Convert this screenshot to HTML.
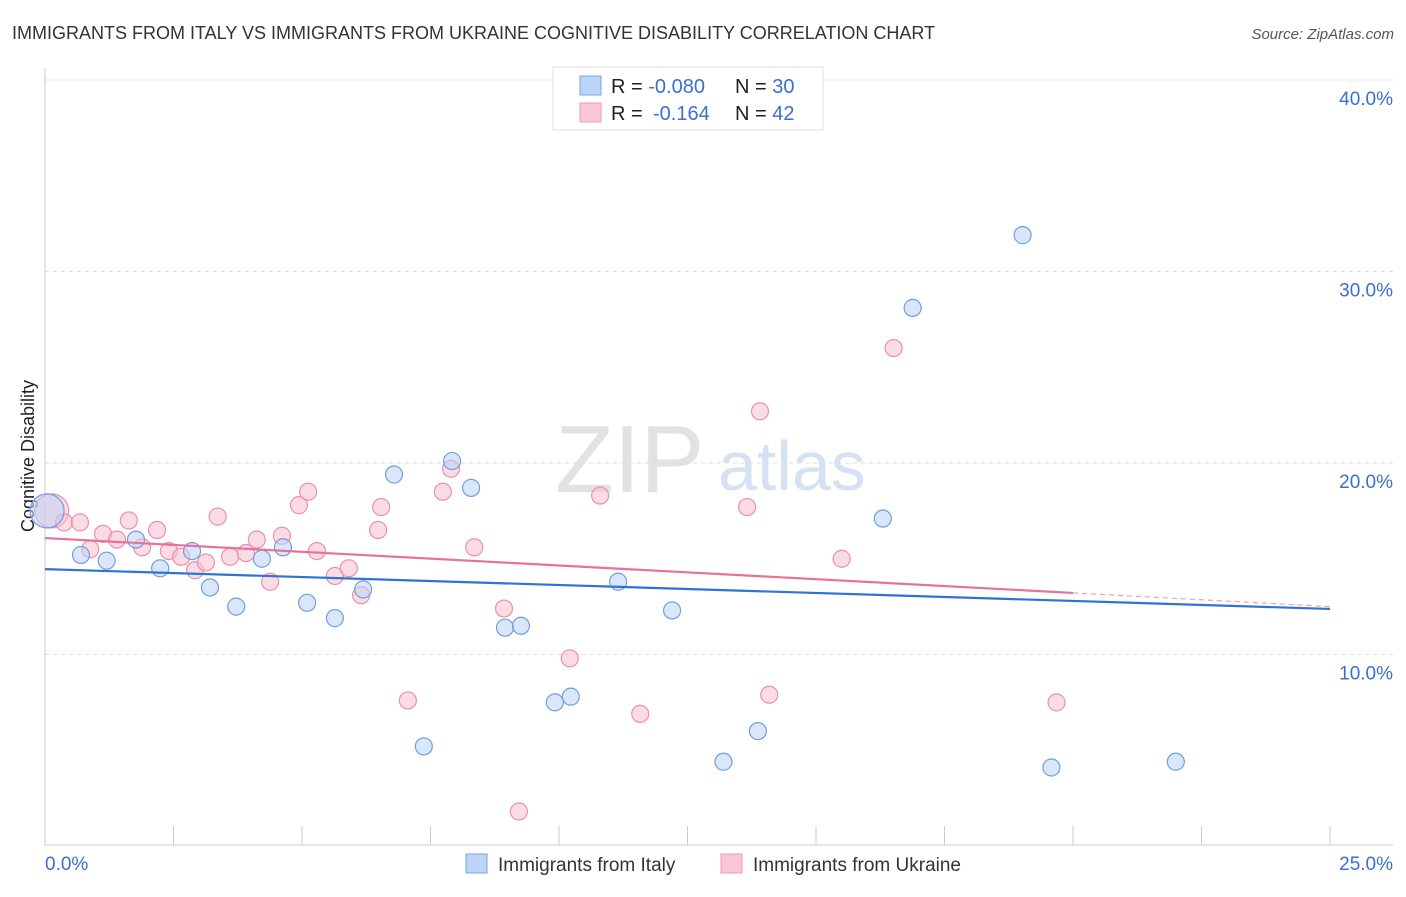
<!DOCTYPE html>
<html><head><meta charset="utf-8"><style>
body{margin:0;background:#fff;font-family:"Liberation Sans",sans-serif;}
svg text{font-family:"Liberation Sans",sans-serif;}
</style></head><body>
<svg id="c" width="1406" height="892">
<text x="12" y="39" font-size="18" fill="#333">IMMIGRANTS FROM ITALY VS IMMIGRANTS FROM UKRAINE COGNITIVE DISABILITY CORRELATION CHART</text>
<text x="1394" y="39" font-size="15" fill="#555" text-anchor="end" font-style="italic">Source: ZipAtlas.com</text>
<text x="34" y="456" font-size="18" fill="#222" text-anchor="middle" transform="rotate(-90 34 456)">Cognitive Disability</text>
<text x="555" y="492" font-size="96" fill="#e2e2e2" font-family="Liberation Serif">ZIP</text>
<text x="718" y="490" font-size="70" fill="#d4e2f4">atlas</text>
<g id="grid"></g><g id="marks"></g>
<g>
<rect x="553" y="67" width="270" height="63" fill="#fff" stroke="#ddd"/>
<rect x="580" y="76" width="21" height="19" fill="#bcd4f6" stroke="#7aa6e6"/>
<rect x="580" y="103" width="21" height="19" fill="#f9c6d6" stroke="#ee9ab4"/>
<text x="611" y="93" font-size="20" fill="#222">R = <tspan fill="#3a6fd0">-0.080</tspan><tspan x="735">N = </tspan><tspan fill="#3a6fd0">30</tspan></text>
<text x="611" y="120" font-size="20" fill="#222">R = <tspan x="653" fill="#3a6fd0">-0.164</tspan><tspan x="735">N = </tspan><tspan fill="#3a6fd0">42</tspan></text>
</g>
<g>
<rect x="466" y="854" width="21" height="19" fill="#bcd4f6" stroke="#7aa6e6"/>
<text x="498" y="871" font-size="19" fill="#333">Immigrants from Italy</text>
<rect x="721" y="854" width="21" height="19" fill="#f9c6d6" stroke="#ee9ab4"/>
<text x="753" y="871" font-size="19" fill="#333">Immigrants from Ukraine</text>
</g>
</svg>
<script>
const italyX=[0.04,0.7,1.2,1.77,2.24,2.86,3.21,3.72,4.22,4.63,5.1,5.64,6.19,6.79,7.37,7.92,8.29,8.95,9.26,9.92,10.23,11.15,12.2,13.2,13.87,16.3,16.88,19.02,19.58,22.0];
const italyY=[17.5,15.2,14.9,16.0,14.5,15.4,13.5,12.5,15.0,15.6,12.7,11.9,13.4,19.4,5.2,20.1,18.7,11.4,11.5,7.5,7.8,13.8,12.3,4.4,6.0,17.1,28.1,31.9,4.1,4.4];
const ukrX=[0.13,0.37,0.68,0.88,1.13,1.4,1.63,1.89,2.18,2.41,2.65,2.92,3.13,3.36,3.6,3.91,4.12,4.38,4.61,4.94,5.12,5.29,5.64,5.91,6.15,6.48,6.54,7.06,7.74,7.9,8.35,8.93,9.22,10.21,10.8,11.58,13.66,13.91,14.09,15.5,16.51,19.68];
const ukrY=[17.5,16.9,16.9,15.5,16.3,16.0,17.0,15.6,16.5,15.4,15.1,14.4,14.8,17.2,15.1,15.3,16.0,13.8,16.2,17.8,18.5,15.4,14.1,14.5,13.1,16.5,17.7,7.6,18.5,19.7,15.6,12.4,1.8,9.8,18.3,6.9,17.7,22.7,7.9,15.0,26.0,7.5];
const yTicks=[10,20,30,40];
const xTickLabels=["0.0%","25.0%"];
const italyTrend=[14.46,12.38];
const ukrTrend=[16.08,12.5];
const ukrSolidEnd=20;
const X=v=>45+v*51.4, Y=v=>846-v*19.15;
const NS="http://www.w3.org/2000/svg";
const grid=document.getElementById('grid'), marks=document.getElementById('marks');
function mk(tag,at,parent){const e=document.createElementNS(NS,tag);for(const k in at)e.setAttribute(k,at[k]);parent.appendChild(e);return e;}
yTicks.forEach(t=>{
 const l=mk('line',{x1:45,x2:1393,y1:Y(t),y2:Y(t),stroke:'#ddd','stroke-dasharray':'4,4'},grid);
 
 
 const tx=mk('text',{x:1393,y:Y(t)+25,'font-size':19,fill:'#3a6fd0','text-anchor':'end'},grid);
 tx.textContent=t.toFixed(1)+'%';
 
 
});
let ax=mk('line',{x1:45,x2:45,y1:68,y2:846,stroke:'#ccc'},grid);


ax=mk('line',{x1:45,x2:1393,y1:845,y2:845,stroke:'#ccc'},grid);


for(let i=1;i<=10;i++){const tk=mk('line',{x1:X(i*2.5),x2:X(i*2.5),y1:826,y2:845,stroke:'#ccc'},grid);
 
 }
[[0,'start',45],[25,'end',1393]].forEach((d,i)=>{const t=mk('text',{x:d[2],y:870,'font-size':19,fill:'#3a6fd0','text-anchor':d[1]},grid);t.textContent=xTickLabels[i];
 
 });
function pts(xs,ys,fill,stroke,name){xs.forEach((x,i)=>{const r=i==0?17:8.5;const c=mk('circle',{cx:X(x),cy:Y(ys[i]),r:r,fill:fill,'fill-opacity':0.55,stroke:stroke,'stroke-width':1.2},marks);
 
 });}
pts(ukrX,ukrY,'#f7bfd0','#e990ad','ukraine-point');
pts(italyX,italyY,'#bcd4f6','#6f9fe0','italy-point');
let t1=mk('line',{x1:X(0),y1:Y(italyTrend[0]),x2:X(25),y2:Y(italyTrend[1]),stroke:'#2f72d8','stroke-width':2.2},marks);


const uy=v=>ukrTrend[0]+(ukrTrend[1]-ukrTrend[0])*v/25;
let t2=mk('line',{x1:X(0),y1:Y(uy(0)),x2:X(ukrSolidEnd),y2:Y(uy(ukrSolidEnd)),stroke:'#e8719a','stroke-width':2.2},marks);


let t3=mk('line',{x1:X(ukrSolidEnd),y1:Y(uy(ukrSolidEnd)),x2:X(25),y2:Y(uy(25)),stroke:'#e8a0b8','stroke-width':1.2,'stroke-dasharray':'5,4'},marks);


</script>
</body></html>
